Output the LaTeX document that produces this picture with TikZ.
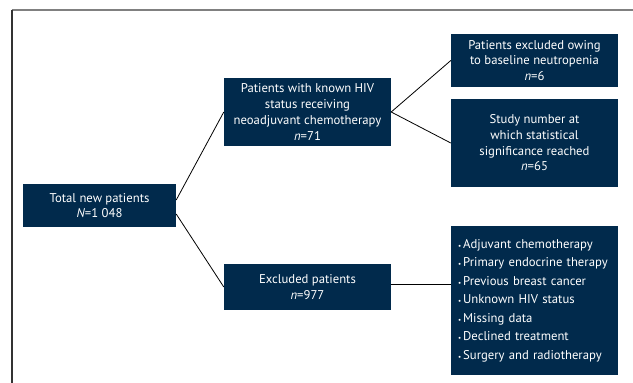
\documentclass[tikz,border=0pt]{standalone}
\usepackage{fontspec}
\setmainfont{PT Sans}
\definecolor{navy}{HTML}{012A4C}
\definecolor{framegray}{HTML}{808080}
\newcommand{\bul}{{\fontsize{7}{7}\selectfont•}\hspace{2pt}}
\begin{document}
\begin{tikzpicture}[x=1pt,y=-1pt,
  box/.style={fill=navy,text=white,draw=none,inner sep=0pt,font=\fontsize{12.7}{15.7}\selectfont,align=center},
  conn/.style={draw=black,line width=0.8pt}]
\useasboundingbox (0,0) rectangle (633,383);
% frame
\draw[framegray,line width=1.3pt] (11.5,10) -- (633,10);
\draw[black!80,line width=1.1pt] (12,9.5) -- (12,383);
% nodes
\node[box,minimum width=153pt,minimum height=43pt] (total) at (99.5,205.5)
  {Total new patients\\\textit{N}=1 048};
\node[box,minimum width=167pt,minimum height=68pt] (known) at (307.5,112)
  {Patients with known HIV\\status receiving\\neoadjuvant chemotherapy\\\textit{n}=71};
\node[box,minimum width=167pt,minimum height=46pt] (excl) at (307.5,287)
  {Excluded patients\\\textit{n}=977};
\node[box,minimum width=167pt,minimum height=53pt] (neutro) at (534.5,60.5)
  {Patients excluded owing\\to baseline neutropenia\\\textit{n}=6};
\node[box,minimum width=167pt,minimum height=88pt] (study) at (534.5,143)
  {Study number at\\which statistical\\significance reached\\\textit{n}=65};
\node[box,minimum width=167pt,minimum height=149pt,align=left,text width=153pt,
  font=\fontsize{12.7}{18.5}\selectfont] (reasons) at (534.5,300.5)
  {\bul Adjuvant chemotherapy\\
   \bul Primary endocrine therapy\\
   \bul Previous breast cancer\\
   \bul Unknown HIV status\\
   \bul Missing data\\
   \bul Declined treatment\\
   \bul Surgery and radiotherapy};
% connectors
\draw[conn] ([yshift=5.5pt]total.east) -- (known.west);
\draw[conn] ([yshift=-8.5pt]total.east) -- (excl.west);
\draw[conn] (known.east) -- (neutro.west);
\draw[conn] (known.east) -- (study.west);
\draw[conn,line width=1pt] ([yshift=3pt]excl.east) coordinate (e1) -- (e1 -| reasons.west);
\end{tikzpicture}
\end{document}
